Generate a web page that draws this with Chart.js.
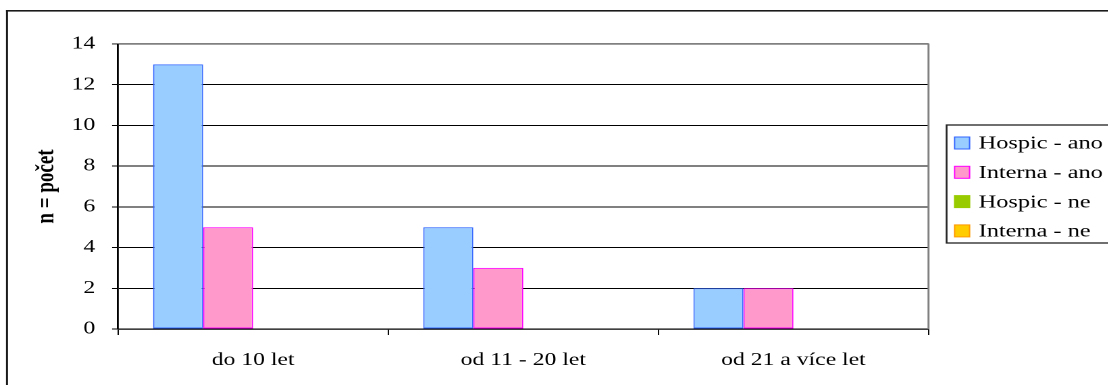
<!DOCTYPE html>
<html><head><meta charset="utf-8">
<script src="https://cdn.jsdelivr.net/npm/chart.js@4.4.1/dist/chart.umd.min.js"></script>
<style>
html,body{margin:0;padding:0;background:#fff;overflow:hidden;width:1108px;height:385px;}
#wrap{position:absolute;left:0;top:0;height:385px;transform-origin:0 0;}
</style></head><body>
<div id="wrap"><canvas id="c"></canvas></div>
<script>
// ---- data ----
const categories = ['do 10 let', 'od 11 - 20 let', 'od 21 a více let'];
const seriesNames = ['Hospic - ano', 'Interna - ano', 'Hospic - ne', 'Interna - ne'];
const hospicAno = [13, 5, 2];
const internaAno = [5, 3, 2];
const hospicNe = [0, 0, 0];
const internaNe = [0, 0, 0];
const yMin = 0, yMax = 14, yStep = 2;
const yTitle = 'n = počet';

// ---- layout (page px) ----
const S = 1.35;               // horizontal stretch of the reference
const W = 1108 / S;
const wrap = document.getElementById('wrap');
wrap.style.width = W + 'px';
wrap.style.transform = 'scaleX(' + S + ')';
const FONT = "'Liberation Serif', 'Times New Roman', serif";
Chart.defaults.font.family = FONT;
Chart.defaults.color = '#000';

const styles = [
  {bg: '#99CCFF', border: '#3366FF', bw: 1},
  {bg: '#FF99CC', border: '#FF00FF', bw: 1},
  {bg: '#99CC00', border: '#99CC00', bw: 0},
  {bg: '#FFCC00', border: '#FF9900', bw: 0}
];
const values = [hospicAno, internaAno, hospicNe, internaNe];
const datasets = seriesNames.map((n, i) => ({
  label: n, data: values[i],
  backgroundColor: styles[i].bg, borderColor: styles[i].border,
  borderWidth: styles[i].bw, borderSkipped: false,
  legendBorder: styles[i].border
}));

const framePlugin = {
  id: 'frame',
  afterDraw(chart) {
    const ctx = chart.ctx, a = chart.chartArea;
    ctx.save();
    // plot area right border (gray)
    ctx.fillStyle = '#808080';
    ctx.fillRect(a.right - 1 / S, a.top - 0.5, 2 / S, a.bottom - a.top + 0.5);
    // outer frame (top and left only visible)
    ctx.fillStyle = '#1a1a1a';
    ctx.fillRect(6 / S, 10, 2 / S, 385);
    ctx.fillRect(6 / S, 10, W, 1.6);
    // legend
    const lx = 946 / S, ly = 125, lh = 118;
    ctx.fillStyle = '#fff';
    ctx.fillRect(lx, ly, W, lh);
    ctx.strokeStyle = '#222';
    ctx.lineWidth = 1.3;
    ctx.strokeRect(lx, ly, W, lh);
    ctx.font = '18px ' + FONT;
    ctx.textBaseline = 'middle';
    ctx.textAlign = 'left';
    chart.data.datasets.forEach((d, i) => {
      const cy = 143 + i * 29.3;
      ctx.fillStyle = d.backgroundColor;
      ctx.fillRect(954 / S, cy - 6, 15 / S, 12);
      ctx.strokeStyle = d.legendBorder;
      ctx.lineWidth = 1;
      ctx.strokeRect(954 / S, cy - 6, 15 / S, 12);
      ctx.fillStyle = '#000';
      ctx.fillText(d.label, 978 / S, cy + 1);
    });
    ctx.restore();
  }
};

new Chart(document.getElementById('c'), {
  type: 'bar',
  data: {labels: categories, datasets},
  plugins: [framePlugin],
  options: {
    responsive: true, maintainAspectRatio: false, animation: false,
    devicePixelRatio: 2,
    layout: {padding: {left: 0, top: 44, right: (1108 - 928) / S, bottom: 0}},
    datasets: {bar: {categoryPercentage: 200 / 270, barPercentage: 1.0}},
    plugins: {legend: {display: false}, tooltip: {enabled: false}},
    scales: {
      x: {
        afterFit(scale) { scale.height = 385 - 329; },
        grid: {display: true, drawOnChartArea: false, drawTicks: true, tickLength: 6, color: '#000', lineWidth: 1.3 / S, offset: true},
        border: {display: true, color: '#000', width: 1.2},
        ticks: {font: {size: 17.5}, padding: 15, color: '#000', maxRotation: 0}
      },
      y: {
        min: yMin, max: yMax,
        afterFit(scale) { scale.width = 118 / S; },
        ticks: {stepSize: yStep, font: {size: 17.5}, padding: 12.5, color: '#000'},
        grid: {color: (c) => (c.tick && c.tick.value === yMax) ? '#808080' : '#000', lineWidth: (c) => (c.tick && c.tick.value === yMax) ? 1.8 : 1, tickLength: 6 / S, drawTicks: true},
        border: {display: true, color: '#000', width: 1.6 / S * 1.2},
        title: {display: true, text: yTitle, font: {size: 19, weight: 'bold'}, color: '#000', padding: {top: 23, bottom: 0}}
      }
    }
  }
});
</script>
</body></html>
